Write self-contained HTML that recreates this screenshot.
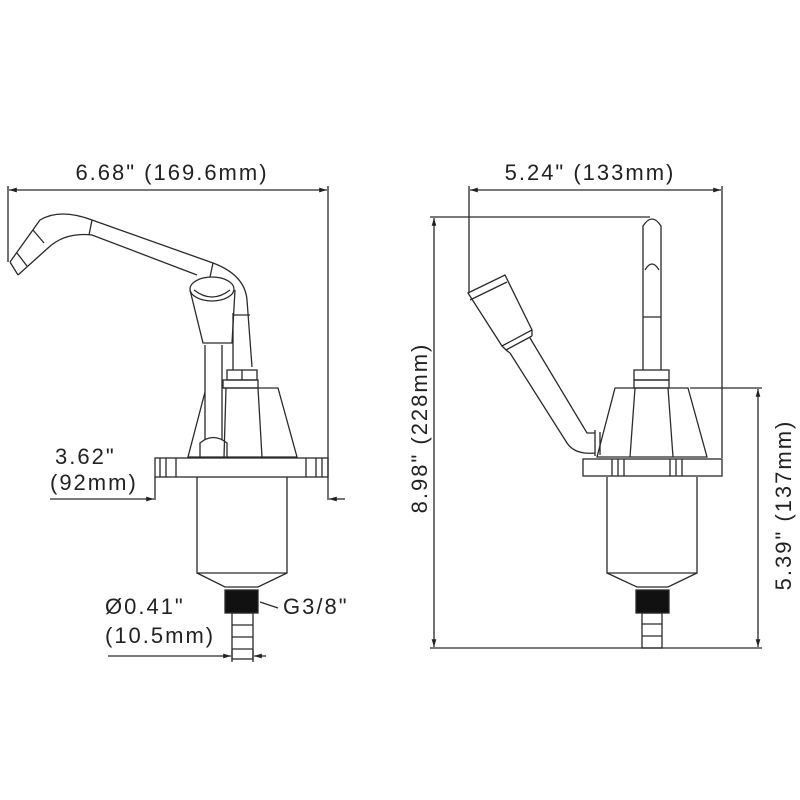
<!DOCTYPE html>
<html><head><style>
html,body{margin:0;padding:0;background:#fff;}
svg{display:block}
text{font-family:"Liberation Sans",sans-serif;fill:#222;font-size:22px;letter-spacing:2px}
</style></head><body>
<svg width="800" height="800" viewBox="0 0 800 800" xmlns="http://www.w3.org/2000/svg">
<defs>
<marker id="a" viewBox="0 0 10 10" refX="10" refY="5" markerWidth="6" markerHeight="6" orient="auto-start-reverse"><path d="M0,2 L10,5 L0,8 z" fill="#222"/></marker>
</defs>
<g fill="none" stroke="#2a2a2a" stroke-width="1.3">
<line x1="8" y1="186" x2="8" y2="262"/>
<line x1="328" y1="186" x2="328" y2="500"/>
<line x1="9" y1="190" x2="327" y2="190" marker-start="url(#a)" marker-end="url(#a)"/>
<path d="M10,262 L40,220 Q60,208 92,220 L213,263 Q245,275 247,300 L252,367"/>
<path d="M18,275 L48,248 Q65,232 92,235 L197,275"/>
<path d="M10,262 L18,275"/><path d="M17,253 L27,266"/><path d="M33,230 L44,243"/>
<line x1="92" y1="220" x2="89" y2="235"/>
<line x1="213" y1="263" x2="210" y2="277"/>
<line x1="233" y1="313" x2="233" y2="370"/>
<line x1="233" y1="315" x2="250" y2="315"/>
<path d="M190,290 L203,343 L232,343 L235,290"/>
<ellipse cx="212" cy="289" rx="22" ry="12" fill="#fff"/>
<path d="M194,290 Q212,304 230,290"/>
<path d="M205,345 L205,440 M222,345 L222,440"/>
<path d="M200,457 L200,443 Q213,432 227,443 L227,457"/>
<rect x="227" y="370" width="30" height="10"/>
<line x1="242" y1="370" x2="242" y2="380"/>
<rect x="223" y="380" width="35" height="8"/>
<path d="M223,388 L278,388 L297,457 L188,457 L205,392"/>
<path d="M226,388 L224,457 M258,388 L262,457"/>
<rect x="155" y="458" width="173" height="19"/>
<path d="M160,458v19 M166,458v19 M176,458v19 M306,458v19 M316,458v19 M322,458v19"/>
<path d="M197,477 L197,573 L287,573 L287,477"/>
<path d="M197,573 L225,587 L258,587 L287,573"/>
<rect x="225" y="590" width="33" height="23" fill="#111"/>
<rect x="232" y="613" width="21" height="46"/>
<path d="M232,625h21 M232,637h21 M232,649h21"/>
<line x1="155" y1="477" x2="155" y2="500"/>
<line x1="50" y1="499" x2="154" y2="499" marker-end="url(#a)"/>
<line x1="345" y1="499" x2="329" y2="499" marker-end="url(#a)"/>
<line x1="108" y1="656" x2="231" y2="656" marker-end="url(#a)"/>
<line x1="266" y1="656" x2="254" y2="656" marker-end="url(#a)"/>
<line x1="232" y1="650" x2="232" y2="662"/><line x1="253" y1="650" x2="253" y2="662"/>
<line x1="260" y1="602" x2="278" y2="608"/>

<line x1="469" y1="186" x2="469" y2="293"/>
<line x1="722" y1="186" x2="722" y2="458"/>
<line x1="470" y1="190" x2="721" y2="190" marker-start="url(#a)" marker-end="url(#a)"/>
<line x1="430" y1="217" x2="650" y2="217"/>
<line x1="434" y1="218" x2="434" y2="647" marker-start="url(#a)" marker-end="url(#a)"/>
<line x1="430" y1="648" x2="762" y2="648"/>
<line x1="690" y1="388" x2="762" y2="388"/>
<line x1="758" y1="389" x2="758" y2="647" marker-start="url(#a)" marker-end="url(#a)"/>
<path d="M643,370 L643,226 Q652,212 661,226 L661,370"/>
<path d="M645,270 Q652,258 659,270"/>
<line x1="643" y1="317" x2="661" y2="317"/>
<rect x="634" y="370" width="35" height="10"/>
<rect x="634" y="380" width="35" height="8"/>
<path d="M615,388 L688,388 L707,457 L597,457 Z"/>
<path d="M635,388 L630,457 M668,388 L673,457"/>
<rect x="583" y="459" width="139" height="17"/>
<path d="M612,459v17 M618,459v17 M624,459v17 M670,459v17 M676,459v17 M682,459v17"/>
<!-- handle -->
<path d="M468,293 L505,275 L532,330 L502,346 Z"/>
<path d="M470,300 L507,282"/>
<path d="M502,346 L506,350 L510,353 M532,330 L532,336"/>
<path d="M506,350 L532,336"/>
<path d="M510,353 L567,443 Q575,455 595,453"/>
<path d="M530,338 L587,433 L595,433"/>
<path d="M595,430 L595,456 M600,432 L600,455"/>
<path d="M607,477 L607,573 L697,573 L697,477"/>
<path d="M607,573 L637,587 L668,587 L697,573"/>
<rect x="636" y="590" width="33" height="23" fill="#111"/>
<rect x="642" y="613" width="20" height="35"/>
<path d="M642,624h20 M642,636h20"/>
</g>
<text x="172" y="180" text-anchor="middle">6.68" (169.6mm)</text>
<text x="590" y="180" text-anchor="middle">5.24" (133mm)</text>
<text x="55" y="464">3.62"</text>
<text x="50" y="490">(92mm)</text>
<text x="105" y="614">Ø0.41"</text>
<text x="105" y="643">(10.5mm)</text>
<text x="283" y="614">G3/8"</text>
<text transform="translate(427,428) rotate(-90)" text-anchor="middle">8.98" (228mm)</text>
<text transform="translate(791,505) rotate(-90)" text-anchor="middle">5.39" (137mm)</text>
</svg>
</body></html>
